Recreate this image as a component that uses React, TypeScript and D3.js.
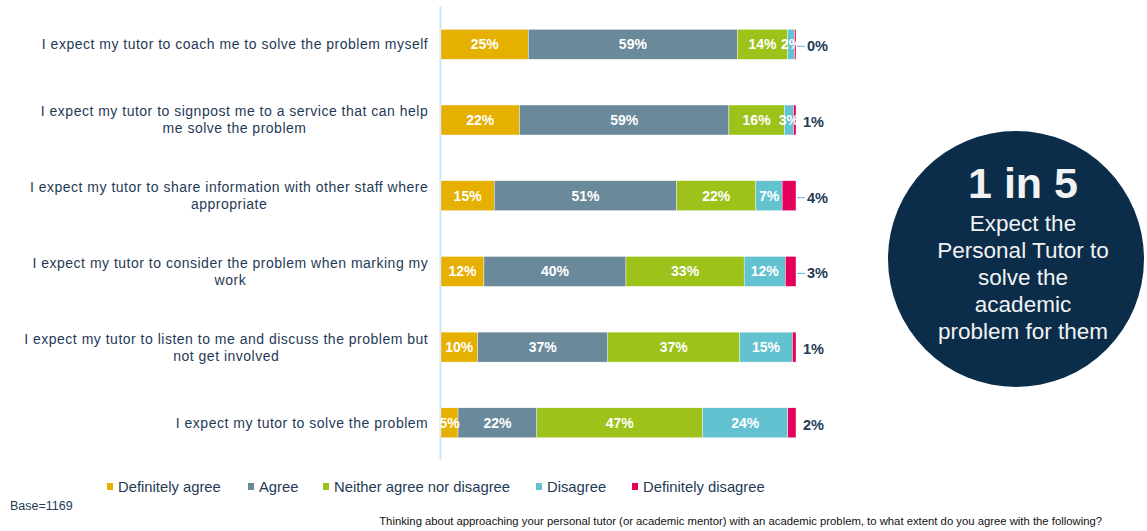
import React from "react";
import * as d3 from "d3";

const categories = [
  "I expect my tutor to coach me to solve the problem myself",
  "I expect my tutor to signpost me to a service that can help\nme solve the problem",
  "I expect my tutor to share information with other staff where\nappropriate",
  "I expect my tutor to consider the problem when marking my\nwork",
  "I expect my tutor to listen to me and discuss the problem but\nnot get involved",
  "I expect my tutor to solve the problem",
];
const seriesNames = [
  "Definitely agree",
  "Agree",
  "Neither agree nor disagree",
  "Disagree",
  "Definitely disagree",
];
const definitelyAgree = [24.6, 22.1, 15.0, 12.1, 10.3, 4.8];
const agree = [58.9, 59.0, 51.4, 40.0, 36.7, 22.2];
const neither = [14.1, 15.6, 22.3, 33.3, 37.1, 46.7];
const disagree = [2.0, 2.6, 7.4, 11.6, 14.9, 24.0];
const definitelyDisagree = [0.4, 0.7, 3.9, 3.0, 1.0, 2.3];
const seriesValues = [definitelyAgree, agree, neither, disagree, definitelyDisagree];
const colors = ["#E6B000", "#6A8A9C", "#9DC31B", "#63C2D0", "#E4005B"];
const leaderRows = [0, 2, 3];
const circleLines = ["Expect the", "Personal Tutor to", "solve the", "academic", "problem for them"];

const FONT = "'Liberation Sans', Arial, sans-serif";
const TEXT = "#1f3a56";

let ctx: CanvasRenderingContext2D | null = null;
function measure(t: string, font: string, ls: number) {
  if (!ctx) ctx = document.createElement("canvas").getContext("2d");
  ctx!.font = font;
  return ctx!.measureText(t).width + ls * t.length;
}

export default function App() {
  const W = 1147, H = 531;
  const x = d3.scaleLinear().domain([0, 100]).range([441, 796]);
  const y = d3.scaleBand<number>().domain(d3.range(categories.length)).range([6.45, 460.65]).paddingInner(0.604).paddingOuter(0.302);
  const stack = d3.stack<number, string>()
    .keys(seriesNames)
    .value((i, key) => seriesValues[seriesNames.indexOf(key)][i])(d3.range(categories.length));

  const catFontSize = 14;
  const catLs = 0.5;
  const catFont = `${catFontSize}px ${FONT}`;
  const labelRight = 428;

  return (
    <svg width={W} height={H} style={{ position: "absolute", left: 0, top: 0, background: "#fff" }} fontFamily={FONT}>
      <line x1={440.5} x2={440.5} y1={6} y2={460} stroke="#cfe6fa" strokeWidth={2} />
      {categories.map((c, i) => {
        const lines = c.split("\n");
        const maxW = d3.max(lines, (l) => measure(l, catFont, catLs)) || 0;
        const cx = labelRight - maxW / 2 + catLs / 2;
        const cy = (y(i) || 0) + y.bandwidth() / 2;
        const lh = 17;
        return (
          <text key={i} fontSize={catFontSize} fill={TEXT} textAnchor="middle" letterSpacing={catLs}>
            {lines.map((l, j) => (
              <tspan key={j} x={cx} y={cy + (j - (lines.length - 1) / 2) * lh} dy="0.35em">{l}</tspan>
            ))}
          </text>
        );
      })}
      {stack.map((s, k) => (
        <g key={k}>
          {s.map((d, i) => (
            <rect key={i} x={x(d[0])} width={x(d[1]) - x(d[0])} y={y(i)} height={y.bandwidth()} fill={colors[k]} stroke="#fff" strokeWidth={0.4} />
          ))}
        </g>
      ))}
      {stack.slice(0, 4).map((s, k) => (
        <g key={"l" + k}>
          {s.map((d, i) => (
            <text key={i} x={(x(d[0]) + x(d[1])) / 2} y={(y(i) || 0) + y.bandwidth() / 2} dy="0.35em" textAnchor="middle" fill="#fff" fontWeight="bold" fontSize={14}>
              {Math.round(d[1] - d[0])}%
            </text>
          ))}
        </g>
      ))}
      {definitelyDisagree.map((v, i) => {
        const cy = (y(i) || 0) + y.bandwidth() / 2;
        const lead = leaderRows.includes(i);
        const lx = lead ? 807 : 803;
        return (
          <g key={"o" + i}>
            {lead && <line x1={797} x2={805} y1={cy + 2} y2={cy + 2} stroke="#5db3e3" strokeWidth={1} />}
            <text x={lx} y={cy + 2} dy="0.35em" fill={TEXT} fontWeight="bold" fontSize={14.5}>{Math.round(v)}%</text>
          </g>
        );
      })}
      {(() => {
        const starts = [107, 248, 323, 536, 632];
        return seriesNames.map((n, k) => (
          <g key={"lg" + k}>
            <rect x={starts[k]} y={483} width={6} height={7} fill={colors[k]} />
            <text x={starts[k] + 11} y={486.5} dy="0.35em" fontSize={14.8} fill={TEXT}>{n}</text>
          </g>
        ));
      })()}
      <text x={10} y={506} dy="0.35em" fontSize={12.5} fill={TEXT}>Base=1169</text>
      <text x={1102} y={521} dy="0.35em" fontSize={11.3} fill="#111" textAnchor="end">
        Thinking about approaching your personal tutor (or academic mentor) with an academic problem, to what extent do you agree with the following?
      </text>
      <circle cx={1016} cy={259} r={128} fill="#0b2d4a" />
      <text x={1023} y={198} fontSize={43} fontWeight="bold" fill="#f2f2f2" textAnchor="middle">1 in 5</text>
      {circleLines.map((t, i) => (
        <text key={i} x={1023} y={223 + i * 27} dy="0.35em" fontSize={22.5} fill="#f2f2f2" textAnchor="middle">{t}</text>
      ))}
    </svg>
  );
}
